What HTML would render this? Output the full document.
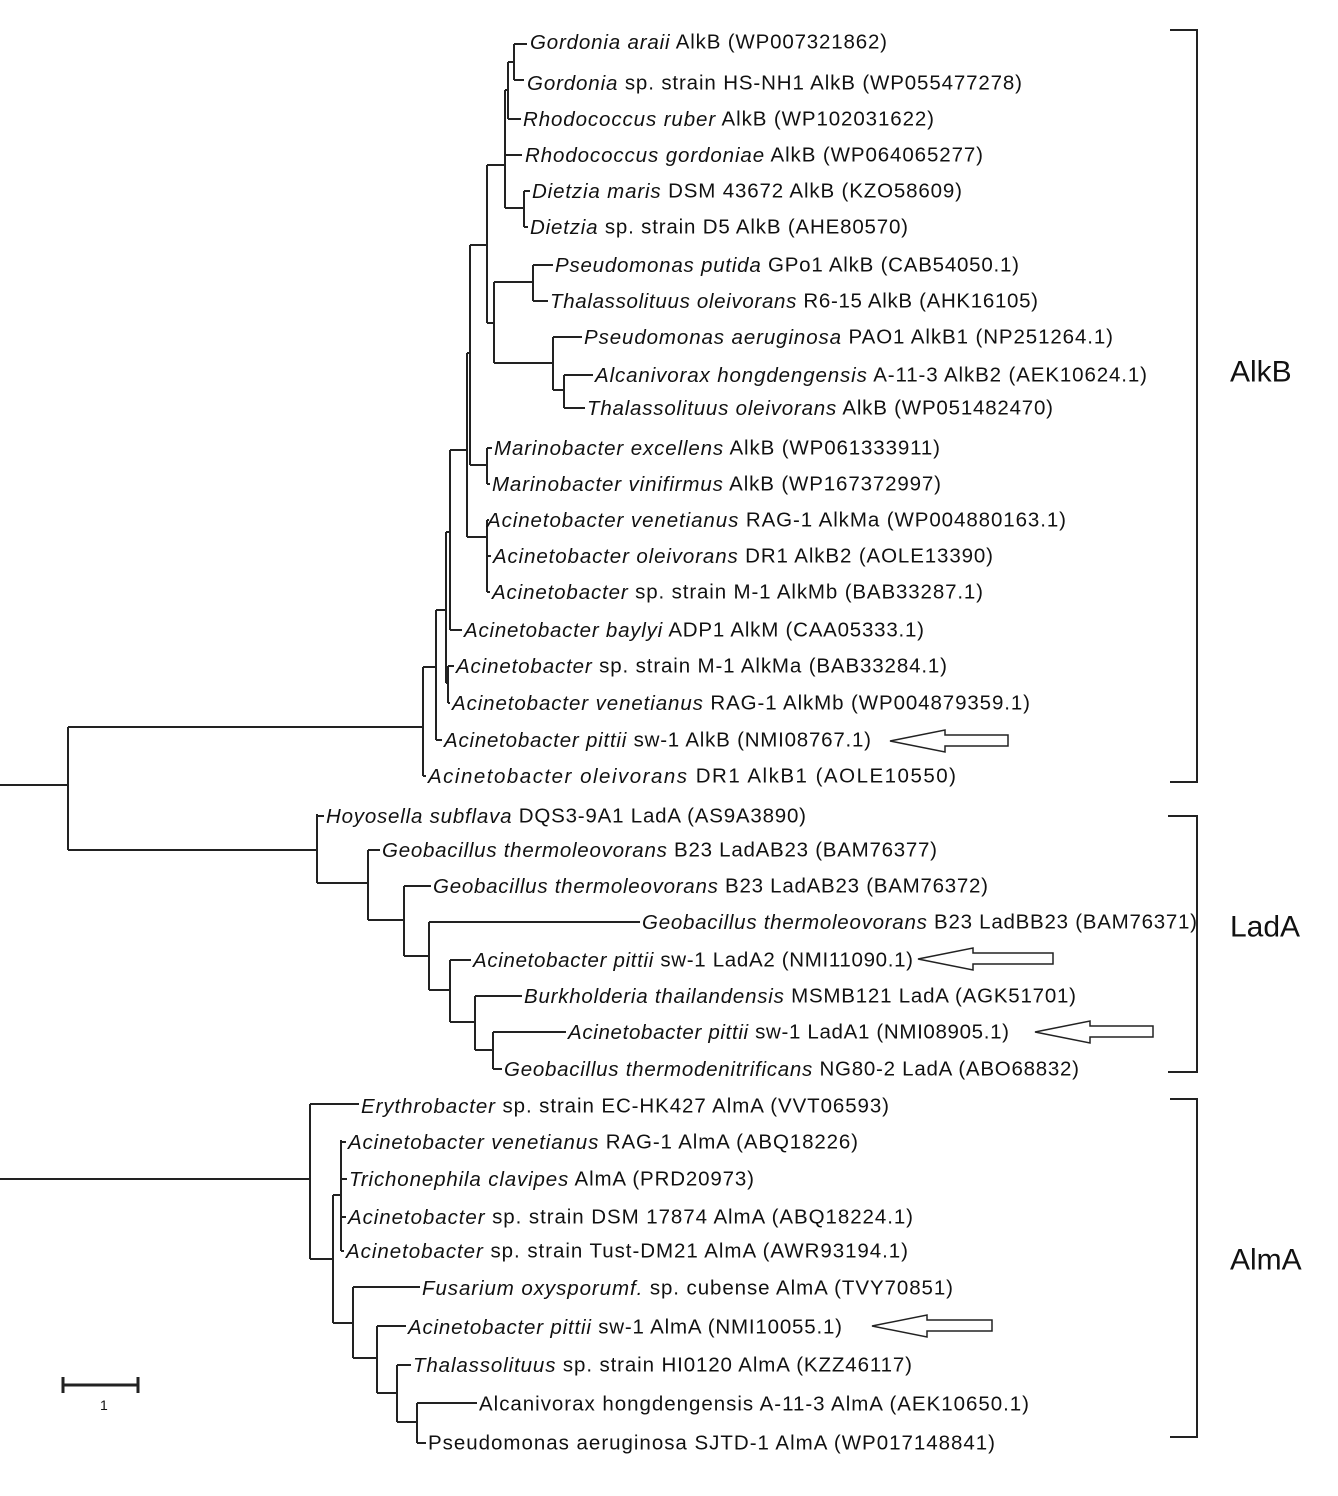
<!DOCTYPE html>
<html><head><meta charset="utf-8"><style>
html,body{margin:0;padding:0;background:#fff;}
svg{display:block;}
text{font-family:"Liberation Sans",Arial,sans-serif;font-size:20.5px;fill:#111;dominant-baseline:central;}
.i{font-style:italic;}
</style></head><body>
<svg width="1338" height="1496" viewBox="0 0 1338 1496" xmlns="http://www.w3.org/2000/svg">
<g stroke="#222" stroke-width="2" fill="none">
<path d="M0 785H68M68 727V850M68 727H423M68 850H317M0 1179H310"/>
<path d="M514 44V80M514 44H527M514 80H524M508 62H514M508 62V119M508 119H521M505 90H508M505 90V208M505 155H522M505 208H524M524 191V227M524 191H530M524 227H528"/>
<path d="M487 165H505M487 165V323M487 323H494M494 282V363M494 282H533M533 265V301M533 265H553M533 301H548M494 363H553M553 337V390M553 337H582M553 390H564M564 375V408M564 375H593M564 408H585"/>
<path d="M470 245H487M470 245V465M467 353H470M467 353V537M470 465H487M487 448V484M487 448H492M487 484H490M467 537H487M487 520V592M487 520H489M487 556H491M487 592H490"/>
<path d="M450 450H467M450 450V630M450 630H462M446 532H450M446 532V683M446 683H448M448 666V703M448 666H454M448 703H450M436 610H446M436 610V740M436 740H442M423 667H436M423 667V776M423 776H426"/>
<path d="M317 814V883M317 816H324M317 883H368M368 850V920M368 850H380M368 920H404M404 886V956M404 886H431M404 956H429M429 922V990M429 922H640M429 990H450M450 960V1022M450 960H471M450 1022H475M475 996V1050M475 996H522M475 1050H493M493 1032V1069M493 1032H566M493 1069H502"/>
<path d="M310 1104V1259M310 1104H359M310 1259H333M333 1195V1323M333 1195H341M341 1140V1251M341 1142H346M341 1179H347M341 1217H346M341 1251H344M333 1323H353M353 1287V1358M353 1287H420M353 1358H377M377 1326V1393M377 1326H406M377 1393H397M397 1365V1422M397 1365H411M397 1422H417M417 1403V1443M417 1403H477M417 1443H426"/>
<path d="M1170 30H1197V782H1170M1168 816H1197V1072H1168M1170 1099H1197V1437H1170"/>
<path d="M63 1385H138M63 1377V1393M138 1377V1393" stroke-width="3"/>
<g stroke-width="1.5">
<path d="M890 741L945 730V735H1008V746H945V752Z"/>
<path d="M918 959L973 948V953H1053V964H973V970Z"/>
<path d="M1035 1032L1090 1021V1026H1153V1037H1090V1043Z"/>
<path d="M872 1326L927 1315V1320H992V1331H927V1337Z"/>
</g>
</g>
<text x="100" y="1405" style="font-size:14px">1</text>
<text x="1230" y="372" style="font-size:30px">AlkB</text>
<text x="1230" y="927" style="font-size:30px">LadA</text>
<text x="1230" y="1260" style="font-size:30px">AlmA</text>
<g xml:space="preserve">
<text x="530" y="42" textLength="357" lengthAdjust="spacing"><tspan class="i">Gordonia araii</tspan> AlkB  (WP007321862)</text>
<text x="527" y="83" textLength="495" lengthAdjust="spacing"><tspan class="i">Gordonia</tspan> sp. strain HS-NH1 AlkB  (WP055477278)</text>
<text x="523" y="119" textLength="411" lengthAdjust="spacing"><tspan class="i">Rhodococcus ruber</tspan>  AlkB  (WP102031622)</text>
<text x="525" y="155" textLength="458" lengthAdjust="spacing"><tspan class="i">Rhodococcus gordoniae</tspan>  AlkB (WP064065277)</text>
<text x="532" y="191" textLength="430" lengthAdjust="spacing"><tspan class="i">Dietzia maris</tspan> DSM 43672  AlkB  (KZO58609)</text>
<text x="530" y="227" textLength="378" lengthAdjust="spacing"><tspan class="i">Dietzia</tspan> sp. strain D5 AlkB  (AHE80570)</text>
<text x="555" y="265" textLength="464" lengthAdjust="spacing"><tspan class="i">Pseudomonas putida</tspan> GPo1 AlkB (CAB54050.1)</text>
<text x="550" y="301" textLength="488" lengthAdjust="spacing"><tspan class="i">Thalassolituus oleivorans</tspan> R6-15 AlkB (AHK16105)</text>
<text x="584" y="337" textLength="529" lengthAdjust="spacing"><tspan class="i">Pseudomonas aeruginosa</tspan> PAO1  AlkB1  (NP251264.1)</text>
<text x="595" y="375" textLength="552" lengthAdjust="spacing"><tspan class="i">Alcanivorax hongdengensis</tspan> A-11-3 AlkB2  (AEK10624.1)</text>
<text x="587" y="408" textLength="466" lengthAdjust="spacing"><tspan class="i">Thalassolituus oleivorans</tspan> AlkB  (WP051482470)</text>
<text x="494" y="448" textLength="446" lengthAdjust="spacing"><tspan class="i">Marinobacter excellens</tspan> AlkB  (WP061333911)</text>
<text x="492" y="484" textLength="449" lengthAdjust="spacing"><tspan class="i">Marinobacter vinifirmus</tspan> AlkB  (WP167372997)</text>
<text x="487" y="520" textLength="579" lengthAdjust="spacing"><tspan class="i">Acinetobacter venetianus</tspan> RAG-1  AlkMa  (WP004880163.1)</text>
<text x="493" y="556" textLength="500" lengthAdjust="spacing"><tspan class="i">Acinetobacter oleivorans</tspan> DR1 AlkB2  (AOLE13390)</text>
<text x="492" y="592" textLength="491" lengthAdjust="spacing"><tspan class="i">Acinetobacter</tspan> sp. strain M-1  AlkMb   (BAB33287.1)</text>
<text x="464" y="630" textLength="460" lengthAdjust="spacing"><tspan class="i">Acinetobacter baylyi</tspan> ADP1 AlkM  (CAA05333.1)</text>
<text x="456" y="666" textLength="491" lengthAdjust="spacing"><tspan class="i">Acinetobacter</tspan> sp. strain M-1   AlkMa  (BAB33284.1)</text>
<text x="452" y="703" textLength="578" lengthAdjust="spacing"><tspan class="i">Acinetobacter venetianus</tspan> RAG-1  AlkMb  (WP004879359.1)</text>
<text x="444" y="740" textLength="427" lengthAdjust="spacing"><tspan class="i">Acinetobacter pittii</tspan> sw-1 AlkB  (NMI08767.1)</text>
<text x="428" y="776" textLength="528" lengthAdjust="spacing"><tspan class="i">Acinetobacter oleivorans</tspan> DR1 AlkB1  (AOLE10550)</text>
<text x="326" y="816" textLength="480" lengthAdjust="spacing"><tspan class="i">Hoyosella subflava</tspan> DQS3-9A1 LadA  (AS9A3890)</text>
<text x="382" y="850" textLength="555" lengthAdjust="spacing"><tspan class="i">Geobacillus thermoleovorans</tspan> B23 LadAB23  (BAM76377)</text>
<text x="433" y="886" textLength="555" lengthAdjust="spacing"><tspan class="i">Geobacillus thermoleovorans</tspan> B23 LadAB23  (BAM76372)</text>
<text x="642" y="922" textLength="555" lengthAdjust="spacing"><tspan class="i">Geobacillus thermoleovorans</tspan> B23 LadBB23  (BAM76371)</text>
<text x="473" y="960" textLength="440" lengthAdjust="spacing"><tspan class="i">Acinetobacter pittii</tspan> sw-1 LadA2 (NMI11090.1)</text>
<text x="524" y="996" textLength="552" lengthAdjust="spacing"><tspan class="i">Burkholderia thailandensis</tspan> MSMB121  LadA  (AGK51701)</text>
<text x="568" y="1032" textLength="441" lengthAdjust="spacing"><tspan class="i">Acinetobacter pittii</tspan> sw-1  LadA1 (NMI08905.1)</text>
<text x="504" y="1069" textLength="575" lengthAdjust="spacing"><tspan class="i">Geobacillus thermodenitrificans</tspan> NG80-2 LadA  (ABO68832)</text>
<text x="361" y="1106" textLength="528" lengthAdjust="spacing"><tspan class="i">Erythrobacter</tspan> sp. strain EC-HK427 AlmA  (VVT06593)</text>
<text x="348" y="1142" textLength="510" lengthAdjust="spacing"><tspan class="i">Acinetobacter venetianus</tspan> RAG-1 AlmA   (ABQ18226)</text>
<text x="349" y="1179" textLength="405" lengthAdjust="spacing"><tspan class="i">Trichonephila clavipes</tspan> AlmA  (PRD20973)</text>
<text x="348" y="1217" textLength="565" lengthAdjust="spacing"><tspan class="i">Acinetobacter</tspan> sp. strain DSM 17874 AlmA  (ABQ18224.1)</text>
<text x="346" y="1251" textLength="562" lengthAdjust="spacing"><tspan class="i">Acinetobacter</tspan> sp. strain Tust-DM21  AlmA  (AWR93194.1)</text>
<text x="422" y="1288" textLength="531" lengthAdjust="spacing"><tspan class="i">Fusarium oxysporumf.</tspan> sp. cubense AlmA  (TVY70851)</text>
<text x="408" y="1327" textLength="434" lengthAdjust="spacing"><tspan class="i">Acinetobacter pittii</tspan> sw-1 AlmA   (NMI10055.1)</text>
<text x="413" y="1365" textLength="499" lengthAdjust="spacing"><tspan class="i">Thalassolituus</tspan> sp. strain HI0120  AlmA  (KZZ46117)</text>
<text x="479" y="1404" textLength="550" lengthAdjust="spacing">Alcanivorax hongdengensis A-11-3 AlmA  (AEK10650.1)</text>
<text x="428" y="1443" textLength="567" lengthAdjust="spacing">Pseudomonas aeruginosa SJTD-1 AlmA  (WP017148841)</text>
</g>
</svg>
</body></html>
